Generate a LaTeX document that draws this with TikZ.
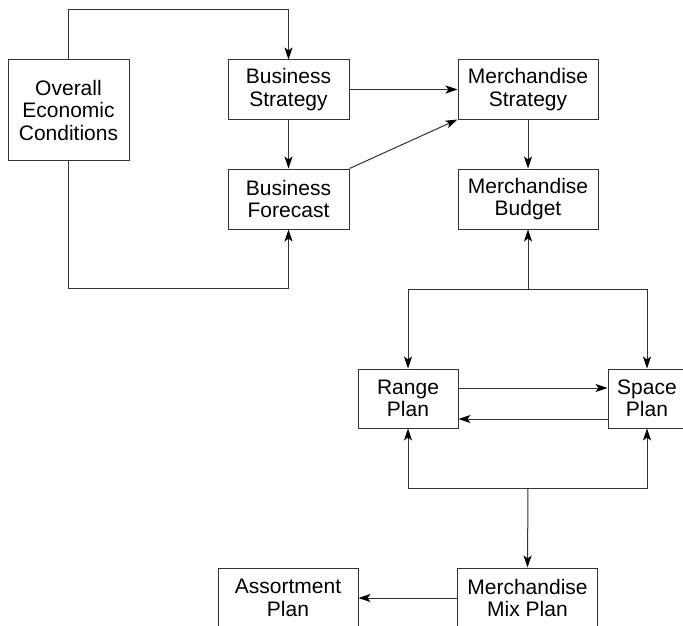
\documentclass[tikz,border=0pt]{standalone}
\usepackage{fontspec}
\setmainfont{Liberation Sans}
\usepackage{tikz}
\usetikzlibrary{arrows.meta, positioning}
\tikzset{
    % Plan box style
    planbox/.style={
        rectangle,
        draw=black!80,
        line width=1pt,
        inner sep=0pt,
        align=center,
        font=\fontsize{21}{22.5}\selectfont
    },
    % Arrow style
    arrow/.style={
        -{Stealth[length=12pt, width=8pt, inset=3pt, color=black]},
        line width=1pt,
        color=black!80
    }
}
\begin{document}
\begin{tikzpicture}[x=1pt, y=-1pt]
        \useasboundingbox (0,0) rectangle (683,626);
        \clip (0,0) rectangle (683,626);

        % Strategy level
        \node (overall) [planbox, minimum width=121pt, minimum height=100pt] at (68.5,110) {Overall\\Economic\\Conditions};
        \node (bstrat) [planbox, minimum width=121pt, minimum height=59pt] at (288.5,89.5) {Business\\Strategy};
        \node (bfore) [planbox, minimum width=121pt, minimum height=60pt] at (288.5,199) {Business\\Forecast};
        \node (mstrat) [planbox, minimum width=140pt, minimum height=59pt] at (528,89.5) {Merchandise\\Strategy};
        \node (mbudget) [planbox, minimum width=140pt, minimum height=60pt] at (528,199) {Merchandise\\Budget};

        % Planning level
        \node (range) [planbox, minimum width=100pt, minimum height=59pt] at (408,398.5) {Range\\Plan};
        \node (space) [planbox, minimum width=78pt, minimum height=59pt] at (647,398.5) {Space\\Plan};
        \node (mixplan) [planbox, minimum width=140pt, minimum height=60pt] at (527.5,598) {Merchandise\\Mix Plan};
        \node (assort) [planbox, minimum width=140pt, minimum height=60pt] at (288,598) {Assortment\\Plan};

        % Junction points
        \coordinate (top) at (288.5,10);
        \coordinate (bottom) at (288.5,288);
        \coordinate (split1) at (528,289);
        \coordinate (split2) at (528,488);

        \draw [arrow] (overall.north) |- (top) -- (bstrat.north);
        \draw [arrow] (overall.south) |- (bottom) -- (bfore.south);
        \draw [arrow] (bstrat) -- (bfore);
        \draw [arrow] (bstrat) -- (mstrat);
        \draw [arrow] (bfore.north east) -- (mstrat.south west);
        \draw [arrow] (mstrat) -- (mbudget);

        \draw [arrow] (split1) -- (mbudget.south);
        \draw [arrow] (split1) -| (range.north);
        \draw [arrow] (split1) -| (space.north);

        \draw [arrow] ([yshift=10.5pt]range.east) -- ([yshift=10.5pt]range.east -| space.west);
        \draw [arrow] ([yshift=-20.5pt]space.west) -- ([yshift=-20.5pt]space.west -| range.east);

        \draw [arrow] (split2) -| (range.south);
        \draw [arrow] (split2) -| (space.south);
        \draw [arrow] (split2) -- (mixplan.north);
        \draw [arrow] (mixplan) -- (assort);
    \end{tikzpicture}
\end{document}
